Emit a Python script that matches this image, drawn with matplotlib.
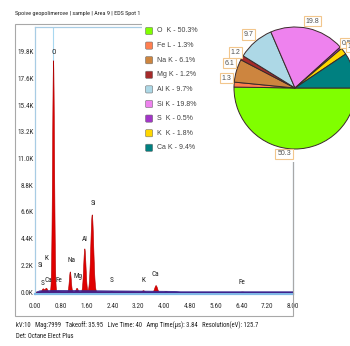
import numpy as np
import matplotlib
matplotlib.use("Agg")
import matplotlib.pyplot as plt
from matplotlib.patches import Rectangle, FancyBboxPatch
from matplotlib import font_manager as fm

# ---------------- data ----------------
title = "Spoive geopolimerove | sample | Area 9 | EDS Spot 1"
info_line1 = "kV:10   Mag:7999   Takeoff: 35.95   Live Time: 40   Amp Time(\u00b5s): 3.84   Resolution(eV): 125.7"
info_line2 = "Det: Octane Elect Plus"

# spectrum peaks (energy keV, height in K counts, sigma keV)
peak_energy = [0.24, 0.34, 0.56, 0.72, 1.08, 1.29, 1.53, 1.76, 2.36, 3.35, 3.74, 4.05, 6.42]
peak_height = [0.30, 0.35, 19.1, 0.12, 1.70, 0.35, 3.60, 6.40, 0.08, 0.15, 0.57, 0.08, 0.04]
peak_sigma = [0.035, 0.035, 0.03, 0.035, 0.03, 0.032, 0.036, 0.045, 0.035, 0.04, 0.042, 0.04, 0.05]

# continuum (keV, K counts)
bg_energy = [0.05, 0.15, 0.6, 1.5, 2.5, 3.5, 4.3, 4.5, 8.0]
bg_level = [0.0, 0.10, 0.12, 0.11, 0.09, 0.07, 0.05, 0.02, 0.02]

# element labels on spectrum
line_labels = ["S", "Si", "K", "Ca", "Fe", "O", "Na", "Mg", "Al", "Si", "S", "K", "Ca", "Fe"]

x_ticks = [0.00, 0.80, 1.60, 2.40, 3.20, 4.00, 4.80, 5.60, 6.40, 7.20, 8.00]
y_ticks = [0.0, 2.2, 4.4, 6.6, 8.8, 11.0, 13.2, 15.4, 17.6, 19.8]

# quantification pie
elements = ["O K", "Fe L", "Na K", "Mg K", "Al K", "Si K", "S K", "K K", "Ca K"]
weights = [50.3, 1.3, 6.1, 1.2, 9.7, 19.8, 0.5, 1.8, 9.4]
colors = ["#80FF00", "#FF7F50", "#CD853F", "#A52A2A", "#ADD8E6",
          "#EE82EE", "#A335C8", "#FFD700", "#008080"]

# ---------------- fonts ----------------
W, H = 350, 346
plt.rcParams["font.family"] = ["Liberation Sans", "DejaVu Sans"]

narrow_family = None
narrow_stretch = "normal"
pref = ["Liberation Sans Narrow", "Roboto Condensed", "Open Sans Condensed",
        "Noto Sans Condensed", "DejaVu Sans Condensed", "Arial Narrow"]
names = {f.name for f in fm.fontManager.ttflist}
for p in pref:
    if p in names:
        narrow_family = p
        break
if narrow_family is None:
    for f in fm.fontManager.ttflist:
        st = str(f.stretch)
        if st in ("condensed", "semi-condensed", "extra-condensed", "ultra-condensed") or (
                st.isdigit() and int(st) < 500):
            narrow_family = f.name
            narrow_stretch = st
            break
have_narrow = narrow_family is not None
if not have_narrow:
    narrow_family = "DejaVu Sans"
NARROW = dict(family=[narrow_family, "DejaVu Sans"], stretch=narrow_stretch)
scale = 1.0 if have_narrow else 0.8

fig = plt.figure(figsize=(W / 100, H / 100), dpi=100)
fig.patch.set_facecolor("white")


def fr(x0, y0, x1, y1):
    return [x0 / W, 1 - y1 / H, (x1 - x0) / W, (y1 - y0) / H]


# outer grey frame
fig.add_artist(Rectangle((15 / W, 1 - 316 / H), (293 - 15) / W, (316 - 24) / H,
                         transform=fig.transFigure, fill=False, ec="#A8A8A8", lw=0.8, zorder=0.5))

ax = fig.add_axes(fr(35, 27, 293, 293.5))
ax.set_xlim(0, 8.0)
ax.set_ylim(-0.12, 21.84)

xs = np.linspace(0, 8, 4000)
spec = np.zeros_like(xs)
for e, h, s in zip(peak_energy, peak_height, peak_sigma):
    spec += h * np.exp(-0.5 * ((xs - e) / s) ** 2)

ax.axvline(peak_energy[2], color="#A8D8F0", lw=0.8, zorder=1)
ax.fill_between(xs, 0, spec, color="#E00000", ec="#B00000", lw=0.4, zorder=2)
ax.fill_between(bg_energy, 0, bg_level, color="#40208C", lw=0.6, zorder=3)
ax.plot(bg_energy, bg_level, color="#3A2A90", lw=0.6, zorder=3)

# label positions (layout): (x in keV, y in K)
label_pos = [(0.24, 0.74), (0.18, 2.22), (0.36, 2.80), (0.42, 0.99), (0.75, 0.99),
             (0.57, 19.7), (1.12, 2.64), (1.32, 1.24), (1.55, 4.37), (1.81, 7.33),
             (2.38, 0.99), (3.36, 0.99), (3.74, 1.48), (6.41, 0.82)]
for name, (lx, ly) in zip(line_labels, label_pos):
    ax.text(lx, ly, name, fontsize=5.2 * scale, ha="center", va="center",
            color="#202020", zorder=4, **NARROW)

ax.set_xticks(x_ticks)
ax.set_xticklabels([f"{v:.2f}" for v in x_ticks], fontsize=5.2 * scale, color="#303030", **NARROW)
ax.set_yticks(y_ticks)
ax.set_yticklabels([f"{v:.1f}K" for v in y_ticks], fontsize=5.2 * scale, color="#303030", **NARROW)
ax.tick_params(length=0, pad=1.0)
ax.tick_params(axis="x", pad=7)
for s in ["left", "top", "right"]:
    ax.spines[s].set_color("#A8CCE4")
    ax.spines[s].set_linewidth(0.9)
ax.spines["bottom"].set_color("#7FB8E6")
ax.spines["bottom"].set_linewidth(1.6)

fig.text(15 / W, 1 - 14 / H, title, fontsize=4.4 * scale, ha="left", va="center", color="#202020", **NARROW)
fig.text(16 / W, 1 - 325.5 / H, info_line1, fontsize=4.8 * scale, ha="left", va="center", color="#202020", **NARROW)
fig.text(16 / W, 1 - 336 / H, info_line2, fontsize=4.8 * scale, ha="left", va="center", color="#202020", **NARROW)

# ---------------- overlay panel (legend + pie) ----------------
panel = fig.add_axes(fr(142, 0, 350, 162))
panel.set_zorder(5)
panel.set_facecolor("white")
panel.set_xlim(142, 350)
panel.set_ylim(162, 0)
panel.set_xticks([])
panel.set_yticks([])
for s in panel.spines.values():
    s.set_visible(False)

for i, (el, v, c) in enumerate(zip(elements, weights, colors)):
    yy = 31 + 14.6 * i
    panel.add_patch(FancyBboxPatch((145.5, yy - 3.6), 7.2, 7.2,
                                   boxstyle="round,pad=0,rounding_size=1.2",
                                   fc=c, ec="#707070", lw=0.4))
    sym, line = el.split(" ")
    panel.text(157, yy, f"{sym}{'  ' if len(sym) == 1 else ' '}{line} - {v}%",
               fontsize=5, va="center", ha="left", color="#404040")

pie_ax = fig.add_axes(fr(295 - 80, 88 - 80, 295 + 80, 88 + 80))
pie_ax.set_zorder(6)
pie_ax.patch.set_alpha(0)
wedges, _ = pie_ax.pie(weights, colors=colors, startangle=0, counterclock=False,
                       radius=1.0, wedgeprops=dict(edgecolor="#3A2A2A", linewidth=0.7))
lim = 80 / 61
pie_ax.set_xlim(-lim, lim)
pie_ax.set_ylim(-lim, lim)
pie_ax.set_axis_off()

# label nudges (layout)
nudge = [(-0.17, 0.04), (0, 0.10), (0, 0.09), (0, 0.03), (-0.03, 0.03), (0.05, 0), (0, 0), (0.05, 0), (0, 0)]
for w, v, (dx, dy) in zip(wedges, weights, nudge):
    ang = np.deg2rad((w.theta1 + w.theta2) / 2)
    px = 1.12 * np.cos(ang) + dx
    py = 1.12 * np.sin(ang) + dy
    pie_ax.text(px, py, f"{v}", fontsize=5, ha="center", va="center", color="#505050",
                bbox=dict(boxstyle="square,pad=0.25", fc="white", ec="#F2C68C", lw=0.8),
                clip_on=False)

fig.savefig("out.png", dpi=100, facecolor="white")
